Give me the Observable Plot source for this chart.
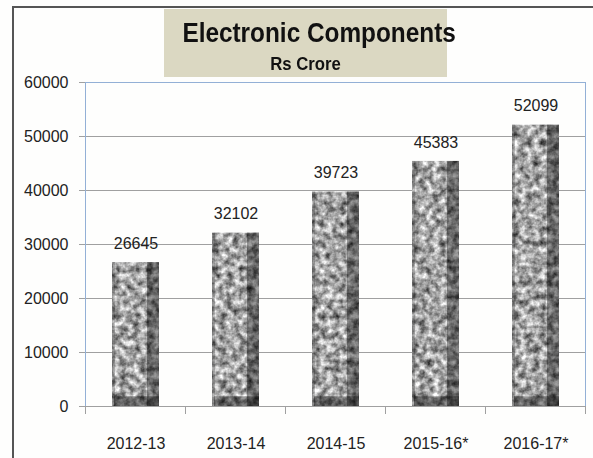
<!DOCTYPE html>
<html>
<head>
<meta charset="utf-8">
<script src="https://cdn.jsdelivr.net/npm/d3@7"></script>
<script src="https://cdn.jsdelivr.net/npm/@observablehq/plot@0.6"></script>
<style>
  html, body { margin: 0; padding: 0; background: #fefefd; }
  #wrap { position: relative; width: 593px; height: 458px; overflow: hidden; font-family: "Liberation Sans", Arial, sans-serif; }
  #frame { position: absolute; left: 12px; top: 6px; width: 640px; height: 500px; border-left: 2px solid #555; border-top: 2px solid #555; }
  #chart { position: absolute; left: 0; top: 0; }
  #title { position: absolute; left: 164px; top: 9px; width: 283px; height: 68px; background: #dbd8c2; }
  #title .t1 { position: absolute; left: 0; width: 100%; top: 10px; text-align: center; font-weight: bold; font-size: 28px; line-height: 28px; color: #111; transform: scaleX(0.87); transform-origin: 50% 50%; white-space: nowrap; }
  #title .t2 { position: absolute; left: 0; width: 100%; top: 45px; text-align: center; font-weight: bold; font-size: 19px; line-height: 19px; color: #111; transform: scaleX(0.88); transform-origin: 50% 50%; white-space: nowrap; }
</style>
</head>
<body>
<div id="wrap">
  <div id="frame"></div>
  <div id="chart"></div>
  <div id="title"><div class="t1">Electronic Components</div><div class="t2">Rs Crore</div></div>
</div>
<script>
const categories = ["2012-13", "2013-14", "2014-15", "2015-16*", "2016-17*"];
const values = [26645, 32102, 39723, 45383, 52099];
const yTicks = [0, 10000, 20000, 30000, 40000, 50000, 60000];

const data = categories.map((c, i) => ({cat: c, value: values[i]}));
const bottomBand = 1800;

const chart = Plot.plot({
  width: 593,
  height: 458,
  marginLeft: 85,
  marginRight: 8,
  marginTop: 82,
  marginBottom: 52,
  style: {background: "transparent", fontFamily: "'Liberation Sans', Arial, sans-serif", fontSize: "16px"},
  x: {domain: categories, paddingInner: 0.53, paddingOuter: 0.265, label: null},
  y: {domain: [0, 60000], label: null},
  marks: [
    Plot.gridY(yTicks, {stroke: "#a0a0a0", strokeOpacity: 1}),
    Plot.axisY(yTicks, {tickSize: 6, tickPadding: 11, stroke: "#a0a0a0", fill: "#222", fontSize: 16, tickFormat: d => String(d), label: null}),
    Plot.frame({stroke: "#93b0d6"}),
    Plot.ruleY([0], {stroke: "#a0a0a0"}),
    Plot.barY(data, {x: "cat", y: "value", fill: "#999"}),
    Plot.barY(data, {x: "cat", y: "value", insetLeft: 35, fill: "#000", fillOpacity: 0.38}),
    Plot.barY(data, {x: "cat", y1: 0, y2: d => Math.min(bottomBand, d.value), insetLeft: 2, fill: "#000", fillOpacity: 0.4}),
    Plot.barY(data, {x: "cat", y: "value", insetRight: 44, fill: "#000", fillOpacity: 0.2}),
    Plot.text(data, {x: "cat", y: "value", text: d => String(d.value), dy: -19, fontSize: 16, fill: "#222"}),
    Plot.axisX({tickSize: 0, tickPadding: 31, fontSize: 16, fill: "#222", label: null})
  ]
});

document.getElementById("chart").appendChild(chart);

// texture filter for the bars
const svg = d3.select(chart);
const defs = svg.insert("defs", ":first-child");
const f = defs.append("filter").attr("id", "tex").attr("color-interpolation-filters", "sRGB")
  .attr("x", "-5%").attr("y", "-5%").attr("width", "110%").attr("height", "110%");
f.append("feTurbulence").attr("type", "fractalNoise").attr("baseFrequency", "0.15").attr("numOctaves", 3).attr("seed", 8).attr("result", "n");
f.append("feColorMatrix").attr("in", "n").attr("type", "matrix")
  .attr("values", "1.2 0 0 0 0.04  1.2 0 0 0 0.04  1.2 0 0 0 0.04  0 0 0 0 1").attr("result", "g0");
f.append("feGaussianBlur").attr("in", "g0").attr("stdDeviation", 0.6).attr("result", "g");
f.append("feComposite").attr("in", "g").attr("in2", "SourceGraphic").attr("operator", "in");

const barGroups = svg.selectAll("g[aria-label='bar']").nodes();
if (barGroups.length) d3.select(barGroups[0]).attr("filter", "url(#tex)");

// category boundary ticks below the baseline
const sx = chart.scale("x");
const sy = chart.scale("y");
const y0 = sy.apply(0);
const step = sx.step;
const bounds = categories.map(c => sx.apply(c) + sx.bandwidth / 2 - step / 2);
bounds.push(sx.apply(categories[categories.length - 1]) + sx.bandwidth / 2 + step / 2);
svg.append("g").selectAll("line").data(bounds).join("line")
  .attr("x1", d => d).attr("x2", d => d)
  .attr("y1", y0).attr("y2", y0 + 8)
  .attr("stroke", "#a0a0a0");
</script>
</body>
</html>
